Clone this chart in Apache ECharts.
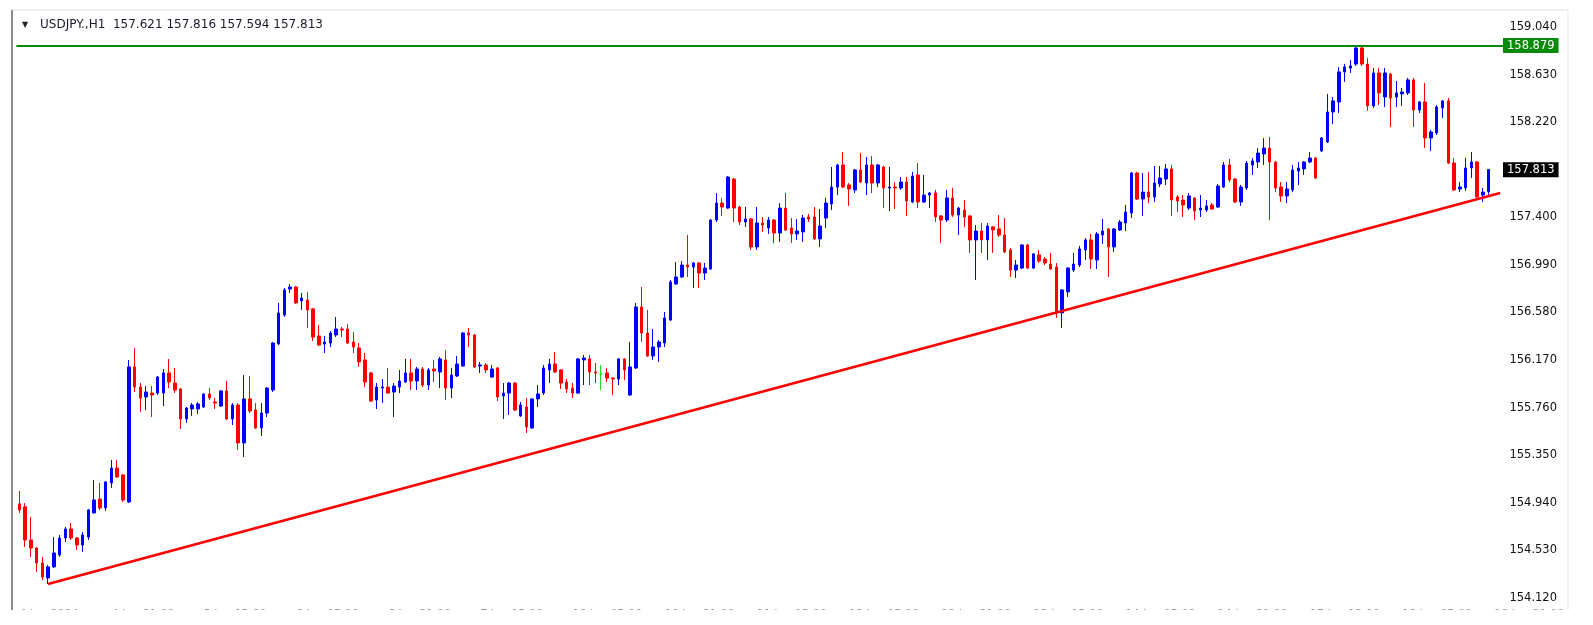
<!DOCTYPE html>
<html>
<head>
<meta charset="utf-8">
<title>USDJPY H1</title>
<script src="https://cdn.jsdelivr.net/npm/echarts@6/dist/echarts.min.js"></script>
<style>
  html, body { margin: 0; padding: 0; background: #fff; }
  #chart { width: 1593px; height: 625px; }
</style>
</head>
<body>
<div id="chart"></div>
<script>
const symbolTitle = 'USDJPY.,H1  157.621 157.816 157.594 157.813';
const priceTicks = [154.12, 154.53, 154.94, 155.35, 155.76, 156.17, 156.58, 156.99, 157.40, 158.22, 158.63, 159.04];
const highLevel = 158.879;
const lastPrice = 157.813;
// trend line: [bar index, price]
const trendLine = [[5, 154.241], [257, 157.610]];

// [open, close, low, high]
const candles = [
  [154.931, 154.879, 154.853, 155.042], [154.905, 154.620, 154.560, 154.939], [154.620, 154.551, 154.474, 154.818],
  [154.551, 154.422, 154.345, 154.560], [154.422, 154.301, 154.275, 154.474], [154.293, 154.388, 154.241, 154.405],
  [154.388, 154.508, 154.379, 154.646], [154.491, 154.637, 154.474, 154.663], [154.637, 154.715, 154.603, 154.732],
  [154.715, 154.637, 154.620, 154.766], [154.637, 154.577, 154.534, 154.646], [154.577, 154.663, 154.517, 154.689],
  [154.646, 154.879, 154.620, 154.887], [154.853, 154.965, 154.845, 155.137], [154.973, 154.896, 154.879, 155.111],
  [154.896, 155.120, 154.870, 155.128], [155.111, 155.240, 155.068, 155.309], [155.240, 155.163, 155.154, 155.309],
  [155.180, 154.965, 154.948, 155.189], [154.948, 156.111, 154.939, 156.171], [156.111, 155.938, 155.895, 156.274],
  [155.938, 155.843, 155.723, 155.972], [155.852, 155.895, 155.740, 155.946], [155.886, 155.869, 155.680, 155.946],
  [155.886, 156.024, 155.869, 156.033], [155.886, 156.059, 155.774, 156.093], [156.059, 155.981, 155.929, 156.180],
  [155.972, 155.912, 155.886, 156.102], [155.921, 155.663, 155.576, 155.929], [155.663, 155.757, 155.628, 155.766],
  [155.749, 155.783, 155.689, 155.800], [155.749, 155.792, 155.706, 155.809], [155.766, 155.878, 155.757, 155.886],
  [155.878, 155.843, 155.826, 155.929], [155.809, 155.800, 155.749, 155.843], [155.774, 155.904, 155.766, 155.912],
  [155.904, 155.663, 155.654, 155.990], [155.663, 155.783, 155.611, 155.800], [155.783, 155.456, 155.395, 155.800],
  [155.456, 155.835, 155.335, 156.041], [155.835, 155.731, 155.714, 156.033], [155.740, 155.585, 155.576, 155.800],
  [155.585, 155.714, 155.516, 155.800], [155.714, 155.929, 155.680, 155.938], [155.912, 156.317, 155.895, 156.325],
  [156.309, 156.576, 156.300, 156.662], [156.559, 156.774, 156.542, 156.791], [156.782, 156.800, 156.748, 156.826],
  [156.800, 156.662, 156.654, 156.808], [156.680, 156.705, 156.602, 156.748], [156.688, 156.602, 156.447, 156.757],
  [156.611, 156.369, 156.334, 156.619], [156.378, 156.300, 156.291, 156.472], [156.309, 156.326, 156.231, 156.378],
  [156.317, 156.403, 156.283, 156.421], [156.386, 156.438, 156.369, 156.541], [156.438, 156.429, 156.369, 156.455],
  [156.438, 156.317, 156.309, 156.481], [156.326, 156.283, 156.231, 156.412], [156.274, 156.154, 156.111, 156.317],
  [156.171, 155.981, 155.938, 156.231], [156.059, 155.817, 155.809, 156.067], [155.826, 155.938, 155.749, 155.972],
  [155.929, 155.938, 155.800, 156.007], [155.938, 155.886, 155.878, 156.102], [155.895, 155.946, 155.680, 155.972],
  [155.938, 155.990, 155.886, 156.085], [155.981, 156.059, 155.972, 156.180], [156.059, 155.990, 155.912, 156.180],
  [155.990, 156.093, 155.912, 156.111], [156.093, 155.955, 155.938, 156.111], [155.955, 156.085, 155.912, 156.102],
  [156.093, 156.076, 155.981, 156.171], [156.067, 156.180, 155.929, 156.197], [156.171, 155.929, 155.826, 156.257],
  [155.929, 156.041, 155.843, 156.102], [156.033, 156.136, 156.024, 156.205], [156.119, 156.403, 156.111, 156.412],
  [156.403, 156.386, 156.283, 156.447], [156.386, 156.111, 156.102, 156.395], [156.119, 156.128, 156.059, 156.154],
  [156.128, 156.085, 156.059, 156.145], [156.024, 156.093, 156.015, 156.128], [156.102, 155.852, 155.817, 156.111],
  [155.861, 155.886, 155.663, 155.972], [155.886, 155.972, 155.697, 155.981], [155.972, 155.740, 155.731, 155.981],
  [155.689, 155.783, 155.680, 155.809], [155.766, 155.594, 155.542, 155.843], [155.585, 155.835, 155.576, 155.843],
  [155.835, 155.878, 155.766, 155.955], [155.886, 156.102, 155.869, 156.128], [156.085, 156.136, 155.972, 156.180],
  [156.136, 156.067, 156.059, 156.240], [156.085, 155.972, 155.921, 156.093], [155.981, 155.921, 155.886, 156.007],
  [155.929, 155.886, 155.843, 155.972], [155.886, 156.180, 155.878, 156.188], [156.171, 156.188, 155.955, 156.214],
  [156.180, 156.067, 155.955, 156.214], [156.067, 156.059, 155.972, 156.145], [156.050, 156.050, 155.912, 156.128],
  [156.059, 156.015, 155.981, 156.102], [156.015, 156.007, 155.869, 156.024], [156.007, 156.180, 155.955, 156.188],
  [156.180, 156.085, 155.998, 156.188], [155.869, 156.111, 155.860, 156.326], [156.102, 156.628, 156.093, 156.662],
  [156.628, 156.403, 156.326, 156.800], [156.403, 156.205, 156.197, 156.602], [156.205, 156.283, 156.171, 156.438],
  [156.283, 156.326, 156.154, 156.343], [156.317, 156.533, 156.283, 156.585], [156.515, 156.843, 156.507, 156.860],
  [156.826, 156.886, 156.817, 157.015], [156.886, 156.989, 156.877, 157.024], [156.989, 156.972, 156.886, 157.248],
  [156.972, 157.007, 156.791, 157.015], [157.007, 156.920, 156.791, 157.015], [156.920, 156.963, 156.860, 157.007],
  [156.955, 157.377, 156.946, 157.386], [157.377, 157.523, 157.360, 157.609], [157.523, 157.489, 157.412, 157.567],
  [157.480, 157.747, 157.472, 157.756], [157.730, 157.480, 157.360, 157.739], [157.489, 157.360, 157.334, 157.497],
  [157.360, 157.386, 157.317, 157.489], [157.386, 157.145, 157.119, 157.394], [157.145, 157.351, 157.119, 157.489],
  [157.351, 157.334, 157.274, 157.403], [157.308, 157.377, 157.257, 157.403], [157.377, 157.265, 157.179, 157.386],
  [157.265, 157.480, 157.188, 157.523], [157.480, 157.291, 157.282, 157.609], [157.308, 157.257, 157.179, 157.394],
  [157.257, 157.282, 157.205, 157.386], [157.274, 157.394, 157.188, 157.420], [157.403, 157.386, 157.360, 157.429],
  [157.403, 157.214, 157.205, 157.489], [157.214, 157.325, 157.145, 157.472], [157.394, 157.523, 157.308, 157.567],
  [157.515, 157.661, 157.463, 157.834], [157.661, 157.851, 157.592, 157.860], [157.851, 157.661, 157.653, 157.963],
  [157.679, 157.644, 157.498, 157.696], [157.636, 157.808, 157.610, 157.817], [157.808, 157.704, 157.696, 157.954],
  [157.696, 157.851, 157.592, 157.920], [157.851, 157.696, 157.610, 157.929], [157.696, 157.851, 157.661, 157.860],
  [157.834, 157.653, 157.481, 157.842], [157.653, 157.661, 157.455, 157.834], [157.661, 157.653, 157.472, 157.704],
  [157.653, 157.704, 157.636, 157.747], [157.704, 157.541, 157.412, 157.747], [157.532, 157.756, 157.523, 157.791],
  [157.765, 157.532, 157.480, 157.868], [157.532, 157.592, 157.523, 157.765], [157.592, 157.610, 157.480, 157.618],
  [157.610, 157.403, 157.360, 157.636], [157.412, 157.377, 157.179, 157.420], [157.377, 157.567, 157.360, 157.636],
  [157.567, 157.420, 157.403, 157.653], [157.420, 157.480, 157.248, 157.489], [157.463, 157.403, 157.317, 157.549],
  [157.412, 157.205, 157.093, 157.420], [157.205, 157.282, 156.860, 157.334], [157.282, 157.205, 157.093, 157.351],
  [157.205, 157.325, 157.033, 157.351], [157.317, 157.291, 157.093, 157.325], [157.300, 157.248, 157.231, 157.420],
  [157.248, 157.102, 157.093, 157.394], [157.119, 156.946, 156.886, 157.136], [156.946, 156.989, 156.877, 157.033],
  [156.963, 157.162, 156.955, 157.171], [157.162, 156.963, 156.955, 157.171], [156.963, 157.085, 156.955, 157.093],
  [157.076, 157.024, 157.007, 157.119], [157.041, 157.007, 156.989, 157.059], [156.998, 156.955, 156.946, 157.093],
  [156.972, 156.576, 156.533, 157.007], [156.576, 156.774, 156.447, 156.782], [156.757, 156.963, 156.714, 156.972],
  [156.946, 156.998, 156.929, 157.093], [156.989, 157.128, 156.972, 157.154], [157.119, 157.205, 157.033, 157.222],
  [157.205, 157.041, 156.955, 157.257], [157.033, 157.257, 156.955, 157.274], [157.248, 157.282, 157.171, 157.386],
  [157.300, 157.145, 156.886, 157.308], [157.145, 157.300, 157.102, 157.308], [157.291, 157.360, 157.282, 157.377],
  [157.351, 157.446, 157.282, 157.506], [157.437, 157.782, 157.394, 157.791], [157.782, 157.558, 157.549, 157.791],
  [157.558, 157.618, 157.412, 157.782], [157.618, 157.575, 157.523, 157.791], [157.575, 157.696, 157.532, 157.842],
  [157.687, 157.739, 157.661, 157.842], [157.730, 157.817, 157.679, 157.860], [157.817, 157.549, 157.412, 157.851],
  [157.575, 157.541, 157.446, 157.592], [157.549, 157.506, 157.403, 157.592], [157.480, 157.584, 157.463, 157.610],
  [157.567, 157.455, 157.377, 157.575], [157.463, 157.480, 157.403, 157.592], [157.463, 157.498, 157.446, 157.549],
  [157.506, 157.472, 157.463, 157.523], [157.489, 157.670, 157.480, 157.687], [157.661, 157.851, 157.653, 157.877],
  [157.851, 157.722, 157.704, 157.903], [157.730, 157.532, 157.523, 157.739], [157.532, 157.661, 157.498, 157.679],
  [157.653, 157.868, 157.636, 157.886], [157.851, 157.886, 157.765, 157.911], [157.877, 157.954, 157.825, 157.997],
  [157.946, 157.997, 157.851, 158.083], [157.997, 157.877, 157.377, 158.092], [157.877, 157.653, 157.618, 157.886],
  [157.661, 157.584, 157.532, 157.704], [157.584, 157.644, 157.523, 157.704], [157.636, 157.808, 157.618, 157.851],
  [157.799, 157.825, 157.679, 157.877], [157.817, 157.877, 157.765, 157.886], [157.877, 157.911, 157.868, 157.963],
  [157.911, 157.739, 157.730, 157.920], [157.972, 158.083, 157.963, 158.092], [158.049, 158.308, 158.040, 158.463],
  [158.308, 158.403, 158.205, 158.437], [158.394, 158.653, 158.300, 158.696], [158.653, 158.696, 158.567, 158.722],
  [158.687, 158.704, 158.644, 158.756], [158.721, 158.859, 158.704, 158.868], [158.859, 158.721, 158.704, 158.879],
  [158.721, 158.360, 158.317, 158.773], [158.360, 158.644, 158.343, 158.687], [158.644, 158.472, 158.368, 158.687],
  [158.437, 158.644, 158.351, 158.687], [158.635, 158.429, 158.179, 158.644], [158.437, 158.472, 158.351, 158.575],
  [158.463, 158.480, 158.360, 158.515], [158.472, 158.584, 158.454, 158.601], [158.584, 158.325, 158.179, 158.601],
  [158.325, 158.394, 158.299, 158.403], [158.394, 158.084, 157.998, 158.558], [158.084, 158.135, 157.972, 158.152],
  [158.127, 158.351, 158.110, 158.368], [158.343, 158.403, 158.256, 158.411], [158.403, 157.868, 157.860, 158.429],
  [157.868, 157.636, 157.627, 157.911], [157.644, 157.661, 157.618, 157.704], [157.653, 157.825, 157.627, 157.911],
  [157.825, 157.877, 157.739, 157.963], [157.877, 157.575, 157.567, 157.886], [157.592, 157.618, 157.532, 157.653],
  [157.621, 157.813, 157.594, 157.816]
];

// hourly bar times, weekends skipped, plus two empty bars of right shift
const months = ['Jan', 'Feb', 'Mar', 'Apr', 'May', 'Jun', 'Jul', 'Aug', 'Sep', 'Oct', 'Nov', 'Dec'];
const categories = [];
for (let t = Date.UTC(2024, 5, 4, 5); categories.length < candles.length + 2; t += 3600000) {
  const d = new Date(t);
  if (d.getUTCDay() === 0 || d.getUTCDay() === 6) continue;
  const day = d.getUTCDate() + ' ' + months[d.getUTCMonth()];
  const hh = String(d.getUTCHours()).padStart(2, '0');
  categories.push(categories.length === 0 ? day + ' ' + d.getUTCFullYear() : day + ' ' + hh + ':00');
}

const chart = echarts.init(document.getElementById('chart'), null, { renderer: 'canvas' });

const FONT = 'DejaVu Sans';

chart.setOption({
  animation: false,
  backgroundColor: '#ffffff',
  grid: { left: 16.4, right: 90, top: 10, bottom: 19 },
  xAxis: {
    type: 'category',
    data: categories,
    boundaryGap: true,
    axisLine: { show: false },
    axisTick: { show: false },
    splitLine: { show: false },
    axisLabel: {
      interval: 15,
      align: 'left',
      margin: 3,
      color: '#9a9a9a',
      fontFamily: FONT,
      fontSize: 11
    }
  },
  yAxis: {
    type: 'value',
    position: 'right',
    min: 154.051,
    max: 159.1865,
    scale: true,
    axisLine: { show: false },
    axisTick: { show: false },
    splitLine: { show: false },
    axisLabel: {
      customValues: priceTicks,
      align: 'right',
      margin: 54,
      color: '#111',
      fontFamily: FONT,
      fontSize: 11.5,
      formatter: (v) => v.toFixed(3)
    }
  },
  graphic: [
    // chart frame
    { type: 'line', shape: { x1: 12, y1: 10, x2: 1568, y2: 10 }, style: { stroke: '#e2e2e2', lineWidth: 1 } },
    { type: 'line', shape: { x1: 1568, y1: 10, x2: 1568, y2: 610 }, style: { stroke: '#dfe6ee', lineWidth: 1 } },
    { type: 'line', shape: { x1: 12, y1: 10, x2: 12, y2: 610 }, style: { stroke: '#8c8c8c', lineWidth: 2 } },
    // window cut-off under the time scale
    { type: 'rect', z: 100, shape: { x: 0, y: 610, width: 1593, height: 15 }, style: { fill: '#ffffff' } },
    { type: 'text', x: 25, y: 25, style: { text: '▼', font: '8px ' + FONT, fill: '#222', align: 'center', verticalAlign: 'middle' } },
    { type: 'text', x: 40, y: 25, style: { text: symbolTitle, font: '12px ' + FONT, fill: '#1a1a2a', verticalAlign: 'middle' } }
  ],
  series: [
    {
      type: 'candlestick',
      data: candles.map((c) => (c[0] === c[1]
        ? { value: c, itemStyle: { color: '#22dd22', borderColor: '#22dd22' } }
        : c)),
      barWidth: 3,
      itemStyle: {
        color: '#0000ff',
        color0: '#ff0000',
        borderColor: '#0000ff',
        borderColor0: '#ff0000',
        borderColorDoji: '#22dd22',
        borderWidth: 1
      },
      markLine: {
        silent: true,
        symbol: 'none',
        animation: false,
        data: [
          {
            yAxis: highLevel,
            lineStyle: { color: '#0a8a0a', width: 2, type: 'solid' },
            label: {
              position: 'end', distance: 0, formatter: highLevel.toFixed(3),
              color: '#ffffff', backgroundColor: '#0a8a0a', padding: [2, 4, 1, 4],
              fontFamily: FONT, fontSize: 11.5
            }
          },
          {
            yAxis: lastPrice,
            lineStyle: { color: 'rgba(0,0,0,0)', width: 1 },
            label: {
              position: 'end', distance: 0, formatter: lastPrice.toFixed(3),
              color: '#ffffff', backgroundColor: '#000000', padding: [2, 4, 1, 4],
              fontFamily: FONT, fontSize: 11.5, opacity: 1
            }
          },
          [
            { coord: trendLine[0], lineStyle: { color: '#ff0000', width: 2.5, type: 'solid' }, label: { show: false } },
            { coord: trendLine[1] }
          ]
        ]
      }
    }
  ]
});
</script>
</body>
</html>
